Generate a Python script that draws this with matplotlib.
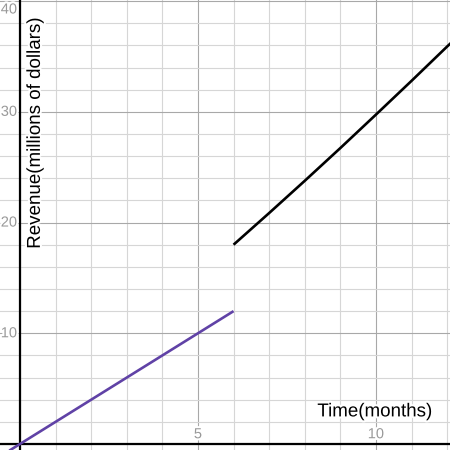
import numpy as np
from matplotlib import pyplot as plt
import matplotlib.patheffects as pe

# data
lin_x = [-0.3, 0, 6]
lin_y = [-0.6, 0, 12]
curve_x = [6, 7, 8, 9, 10, 11, 12, 12.2]
curve_y = [18, 20.86, 23.77, 26.73, 29.75, 32.8, 35.9, 36.5]
x_ticks = [5, 10]
y_ticks = [10, 20, 30, 40]

plt.rcParams['font.family'] = ['Liberation Sans', 'DejaVu Sans']

fig = plt.figure(figsize=(4.5, 4.5), dpi=100)
ax = fig.add_axes([0, 0, 1, 1])

# grid
ax.set_xticks(np.arange(0, 13, 5))
ax.set_xticks(np.arange(-1, 13, 1), minor=True)
ax.set_yticks(np.arange(0, 41, 10))
ax.set_yticks(np.arange(0, 41, 2), minor=True)
ax.set_xlim(-0.56, 12.08)
ax.set_ylim(-0.54, 40.1)
ax.grid(which='minor', color='#d6d6d6', lw=0.8)
ax.grid(which='major', color='#a8a8a8', lw=0.8)
ax.tick_params(which='both', length=0, labelbottom=False, labelleft=False)
for s in ax.spines.values():
    s.set_visible(False)
ax.set_axisbelow(True)

ax.axhline(0, color='black', lw=1.6, zorder=2)
ax.axvline(0, color='black', lw=1.6, zorder=2)

halo = [pe.withStroke(linewidth=3, foreground='white')]
for v in y_ticks:
    top = v >= ax.get_ylim()[1] - 0.5
    ax.annotate(str(v), (0, v), xytext=(-2, -1 if top else 0), textcoords='offset points',
                ha='right', va='top' if top else 'center', fontsize=10.5, color='#999999',
                path_effects=halo, zorder=3)
for v in x_ticks:
    ax.annotate(str(v), (v, 0), xytext=(0, 2), textcoords='offset points',
                ha='center', va='bottom', fontsize=10.5, color='#999999',
                path_effects=halo, zorder=3)

ax.plot(lin_x, lin_y, color='#6042a6', lw=1.9, solid_capstyle='butt', zorder=4)
ax.plot(curve_x, curve_y, color='black', lw=1.9, solid_capstyle='butt', zorder=4)

ax.annotate('Time(months)', (12.08, 0), xytext=(-13, 17), textcoords='offset points',
            ha='right', va='bottom', fontsize=13.5, color='black',
            path_effects=halo, zorder=5)
ax.annotate('Revenue(millions of dollars)', (0, 40.1), xytext=(5, -13), textcoords='offset points',
            ha='left', va='top', rotation=90, fontsize=13.5, color='black',
            path_effects=halo, zorder=5)

fig.savefig('out.png', dpi=100)
